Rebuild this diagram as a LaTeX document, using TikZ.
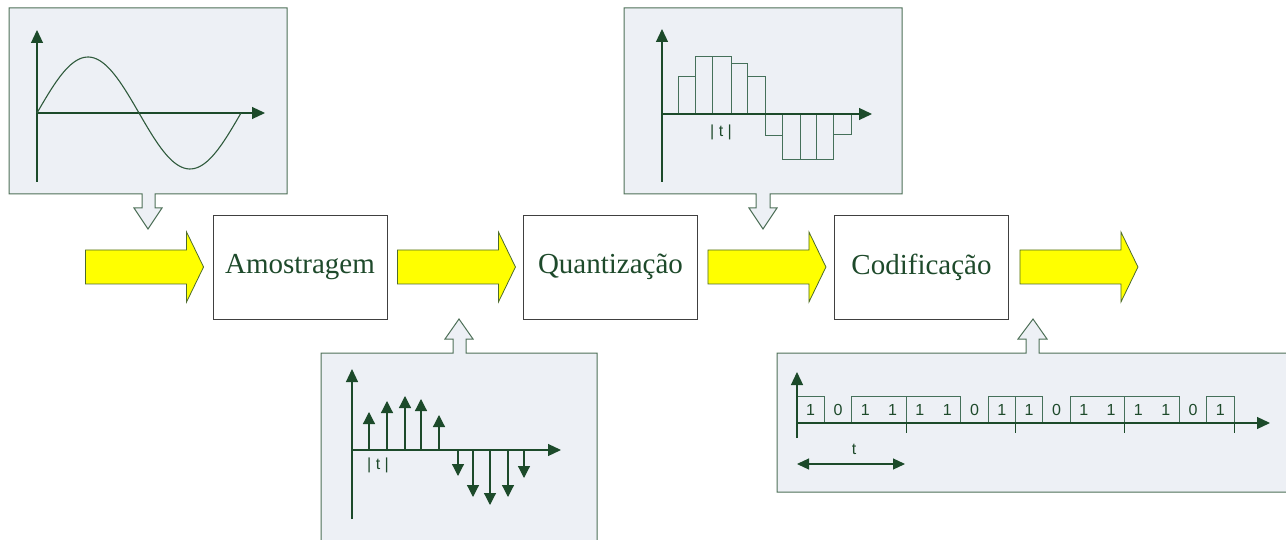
\documentclass[tikz,border=0pt]{standalone}
\usepackage{fontspec}
\setmainfont{Liberation Serif}
\newfontfamily\labelfont{Liberation Sans}
\usetikzlibrary{arrows.meta}

\definecolor{panelfill}{HTML}{EDF0F5}
\definecolor{panelline}{HTML}{4E7058}
\definecolor{axisgreen}{HTML}{1C4A2A}
\definecolor{curvegreen}{HTML}{2F5A3C}
\definecolor{barline}{HTML}{45705A}
\definecolor{textgreen}{HTML}{1E4A2B}
\definecolor{flowyellow}{HTML}{FFFF00}
\definecolor{flowline}{HTML}{4D6B2E}

\tikzset{
  panel/.style={fill=panelfill,draw=panelline,line width=1pt,line join=miter},
  axis/.style={draw=axisgreen,line width=1.2pt,-{Triangle[length=13pt,width=12pt]}},
  stem/.style={draw=axisgreen,line width=1.2pt,-{Triangle[length=12pt,width=12pt]}},
  curve/.style={draw=curvegreen,line width=1.1pt},
  bar/.style={draw=barline,line width=1pt},
  stage/.style={draw=black!75,line width=0.9pt,fill=white,minimum width=174pt,
    minimum height=104pt,inner sep=0pt,font=\fontsize{29}{32}\selectfont,text=textgreen},
  small/.style={font=\labelfont\fontsize{16}{18}\selectfont,text=textgreen,inner sep=0pt},
  flow/.style={fill=flowyellow,draw=flowline,line width=0.8pt,line join=miter},
  fatarrow/.pic={\path[flow] (0,-17) -- (101,-17) -- (101,-35) -- (118,0)
                 -- (101,35) -- (101,17) -- (0,17) -- cycle;}
}

\begin{document}
\begin{tikzpicture}[x=1pt,y=-1pt]
\useasboundingbox (0,0) rectangle (1286,540);
\clip (0,0) rectangle (1286,540);

% processing stages
\node[stage] (amo) at (300,267) {Amostragem};
\node[stage] (qua) at (610.5,267) {Quantização};
\node[stage] (cod) at (921.5,267) {Codificação};

% flow arrows between the stages
\coordinate (in)  at ([xshift=-127pt]amo.west);
\coordinate (f2)  at ([xshift=10pt]amo.east);
\coordinate (f3)  at ([xshift=10pt]qua.east);
\coordinate (out) at ([xshift=11pt]cod.east);
\pic at (in)  {fatarrow};
\pic at (f2)  {fatarrow};
\pic at (f3)  {fatarrow};
\pic at (out) {fatarrow};

% ---- analogue signal panel ----
\path[panel] (9,8) -- (287,8) -- (287,194) -- (155,194) -- (155,208) -- (162,208)
  -- (148,229) -- (134,208) -- (142,208) -- (142,194) -- (9,194) -- cycle;
\draw[axis] (37,182) -- (37,30);
\draw[axis] (37,113) -- (265,113);
\draw[curve] plot[domain=0:204,samples=80,smooth] ({37+\x},{113-56*sin(\x*1.76471)});

% ---- sampled signal panel ----
\path[panel] (321,545) -- (321,353) -- (453,353) -- (453,339) -- (445,339) -- (459,319)
  -- (473,339) -- (466,339) -- (466,353) -- (597,353) -- (597,545) -- cycle;
\draw[axis] (352,519) -- (352,369);
\draw[axis] (352,450) -- (561,450);
\foreach \x/\y in {369/412,387/401,405/396,421/399,439/415,
                   458/476,473/497,490/505,508/497,524/478}
  \draw[stem] (\x,450) -- (\x,\y);
\node[small] (ts) at (378,465) {| t |};

% ---- quantised signal panel ----
\path[panel] (624,8) -- (902,8) -- (902,194) -- (770,194) -- (770,208) -- (777,208)
  -- (763,229) -- (749,208) -- (756,208) -- (756,194) -- (624,194) -- cycle;
\foreach \a/\b/\h in {678/695/77,695/712/57,712/731/57,731/747/64,747/765/77,
                      765/782/136,782/800/160,800/816/160,816/833/160,833/851/135}
  \draw[bar] (\a,114) rectangle (\b,\h);
\draw[axis] (662,182) -- (662,29);
\draw[axis] (662,114) -- (872,114);
\node[small] (tq) at (721,132) {| t |};

% ---- coded bit stream panel ----
\path[panel] (777,492) -- (777,353) -- (1026,353) -- (1026,339) -- (1018,339) -- (1033,319)
  -- (1047,339) -- (1039,339) -- (1039,353) -- (1292,353) -- (1292,492) -- cycle;
\def\bw{27.3125}
\foreach \s/\e in {0/1,2/4,4/6,7/8,8/9,10/12,12/14,15/16}
  \draw[bar] ({797+\s*\bw},423) rectangle ({797+\e*\bw},396);
\foreach \b [count=\i from 0] in {1,0,1,1,1,1,0,1,1,0,1,1,1,1,0,1}
  \node[small] at ({797+(\i+0.5)*\bw},410) {\b};
\foreach \k in {4,8,12,16}
  \draw[axisgreen,line width=1pt] ({797+\k*\bw},423) -- ({797+\k*\bw},433);
\draw[axis] (797,438) -- (797,372);
\draw[axis] (797,423) -- (1270,423);
\node[small] (tc) at (854,449) {t};
\draw[draw=axisgreen,line width=1.2pt,
  {Triangle[length=12pt,width=11pt]}-{Triangle[length=12pt,width=11pt]}] (797,464) -- (905,464);
\end{tikzpicture}
\end{document}
